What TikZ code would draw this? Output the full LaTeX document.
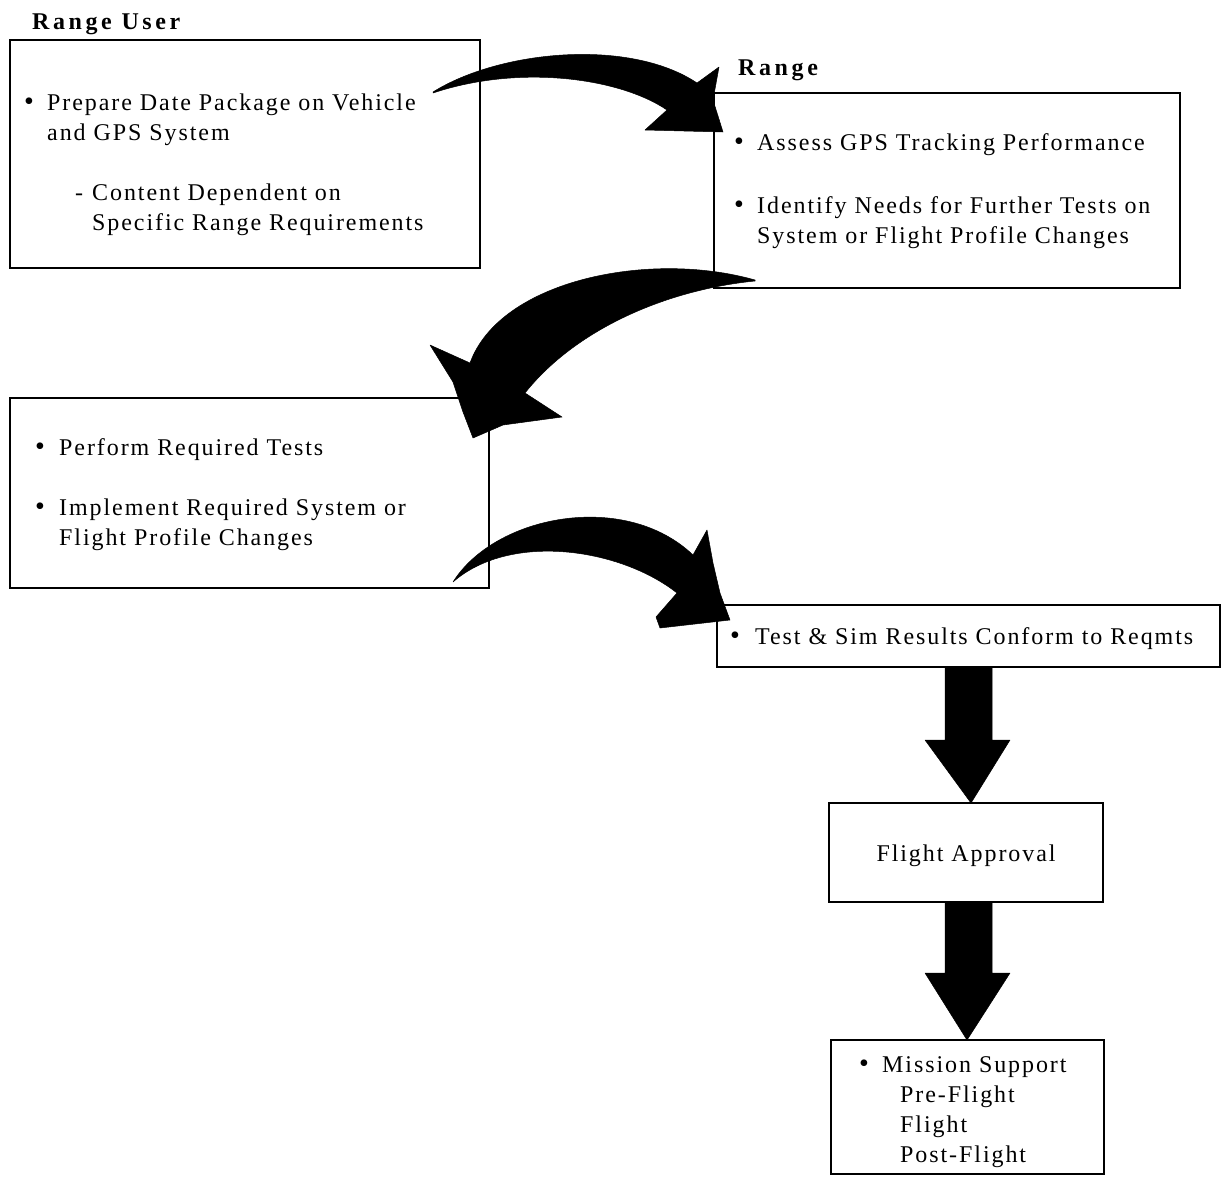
\documentclass[tikz,border=0pt]{standalone}
\usepackage{fontspec}
\setmainfont{Liberation Serif}[LetterSpace=8]
\begin{document}
\begin{tikzpicture}[x=1pt,y=-1pt,
  box/.style={draw,line width=2.8pt,anchor=north west,inner sep=0pt,outer sep=0pt},
  txt/.style={anchor=base west,inner sep=0pt,font=\fontsize{24}{28}\selectfont},
  ttl/.style={anchor=base west,inner sep=0pt,font=\fontsize{24}{28}\selectfont\bfseries\addfontfeatures{LetterSpace=15}},
  blt/.style={anchor=base west,inner sep=0pt,font=\fontsize{28}{28}\selectfont},
  bigarrow/.style={fill=black,draw=black,line width=0.5pt,line join=round}]
\useasboundingbox (0,0) rectangle (1225,1178);
% boxes
\node[box,minimum width=470pt,minimum height=228pt] (b1) at (10,40) {};
\node[box,minimum width=466pt,minimum height=195pt] (b2) at (714,93) {};
\node[box,minimum width=479pt,minimum height=190pt] (b3) at (10,398) {};
\node[box,minimum width=503pt,minimum height=62pt] (b4) at (717,605) {};
\node[box,minimum width=274pt,minimum height=99pt] (b5) at (829,803) {};
\node[box,minimum width=273pt,minimum height=134pt] (b6) at (831,1040) {};
% titles
\node[ttl] (t1) at (32,29) {Range User};
\node[ttl] (t2) at (738,75) {Range};
% box 1
\node[blt] (p1) at (24,110) {•};
\node[txt] (l11) at (47,110) {Prepare Date Package on Vehicle};
\node[txt] (l12) at (47,140) {and GPS System};
\node[txt] (d1) at (75,200) {-};
\node[txt] (l13) at (92,200) {Content Dependent on};
\node[txt] (l14) at (92,230) {Specific Range Requirements};
% box 2
\node[blt] (p21) at (734,150) {•};
\node[txt] (l21) at (757,150) {Assess GPS Tracking Performance};
\node[blt] (p22) at (734,213) {•};
\node[txt] (l22) at (757,213) {Identify Needs for Further Tests on};
\node[txt] (l23) at (757,243) {System or Flight Profile Changes};
% box 3
\node[blt] (p31) at (35,455) {•};
\node[txt] (l31) at (59,455) {Perform Required Tests};
\node[blt] (p32) at (35,515) {•};
\node[txt] (l32) at (59,515) {Implement Required System or};
\node[txt] (l33) at (59,545) {Flight Profile Changes};
% box 4
\node[blt] (p4) at (730,644) {•};
\node[txt] (l4) at (755,644) {Test \& Sim Results Conform to Reqmts};
% box 5
\node[txt,anchor=base] (l5) at (966,861) {Flight Approval};
% box 6
\node[blt] (p6) at (859,1072) {•};
\node[txt] (l61) at (882,1072) {Mission Support};
\node[txt] (l62) at (900,1102) {Pre-Flight};
\node[txt] (l63) at (900,1132) {Flight};
\node[txt] (l64) at (900,1162) {Post-Flight};
% curved arrows
\fill[bigarrow] (433,92) .. controls (500,50) and (630,38) .. (697,83)
  -- (719,67) -- (713,100) -- (723,132) -- (645,130) -- (667,110)
  .. controls (620,78) and (520,64) .. (433,93) -- cycle;
\fill[bigarrow] (755,280) .. controls (650,250) and (500,280) .. (470,363)
  -- (430,345) -- (453,382) -- (463,412) -- (473,438) -- (503,425) -- (562,417) -- (525,393)
  .. controls (575,330) and (665,290) .. (755,281) -- cycle;
\fill[bigarrow] (453,582) .. controls (495,515) and (625,490) .. (693,555)
  -- (707,530) -- (713,563) -- (720,593) -- (730,620) -- (660,628) -- (656,617) -- (677,593)
  .. controls (620,548) and (510,532) .. (453,582) -- cycle;
% straight arrows
\fill[bigarrow] (945,668) -- (992,668) -- (992,740) -- (1010,740) -- (971,803) -- (925,740) -- (945,740) -- cycle;
\fill[bigarrow] (945,903) -- (992,903) -- (992,973) -- (1010,973) -- (967,1040) -- (925,973) -- (945,973) -- cycle;
\end{tikzpicture}
\end{document}
